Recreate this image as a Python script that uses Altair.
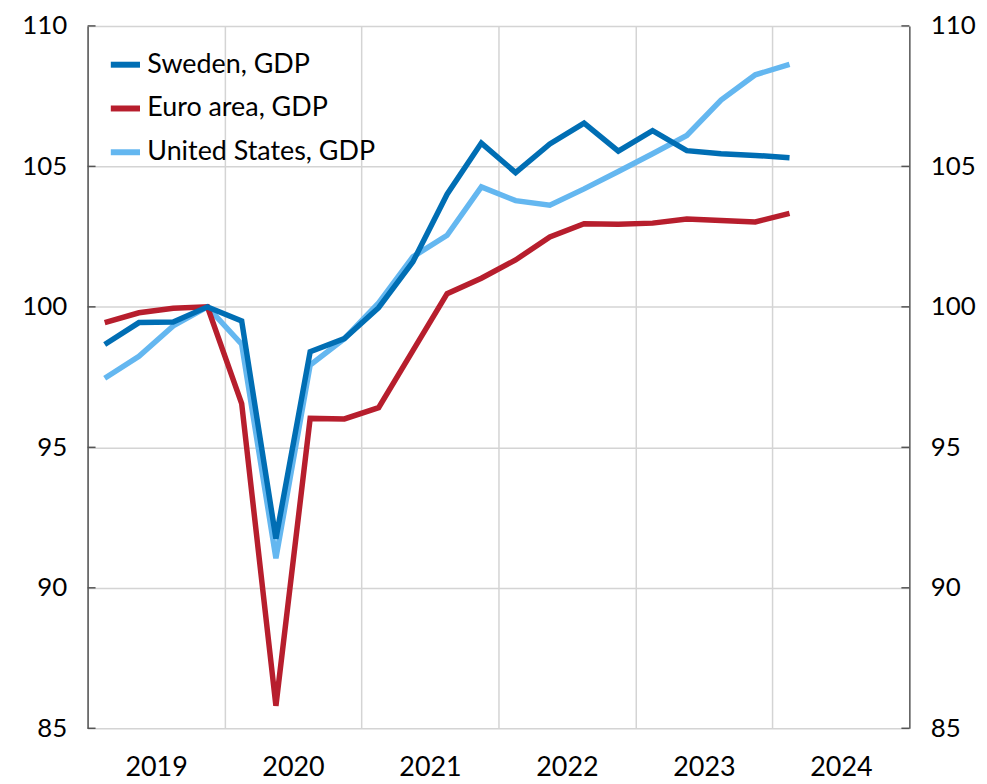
import altair as alt
import pandas as pd

quarters = ["2019Q1", "2019Q2", "2019Q3", "2019Q4",
            "2020Q1", "2020Q2", "2020Q3", "2020Q4",
            "2021Q1", "2021Q2", "2021Q3", "2021Q4",
            "2022Q1", "2022Q2", "2022Q3", "2022Q4",
            "2023Q1", "2023Q2", "2023Q3", "2023Q4",
            "2024Q1"]

sweden = [98.66, 99.44, 99.46, 100.0,
          99.50, 91.75, 98.40, 98.87,
          99.97, 101.60, 104.01, 105.83,
          104.78, 105.80, 106.54, 105.54,
          106.27, 105.56, 105.45, 105.39,
          105.31]

euro = [99.44, 99.79, 99.95, 100.0,
        96.56, 85.80, 96.03, 96.01,
        96.41, 98.44, 100.47, 101.02,
        101.67, 102.49, 102.96, 102.94,
        102.98, 103.13, 103.07, 103.02,
        103.33]

us = [97.46, 98.24, 99.32, 100.0,
      98.67, 91.05, 97.93, 98.87,
      100.14, 101.78, 102.55, 104.27,
      103.78, 103.62, 104.20, 104.82,
      105.45, 106.10, 107.36, 108.26,
      108.63]

series_names = ["Sweden, GDP", "Euro area, GDP", "United States, GDP"]
series_colors = ["#006EB4", "#B71E2D", "#64B7F0"]

y_ticks = [85, 90, 95, 100, 105, 110]
year_ticks = [2019, 2020, 2021, 2022, 2023, 2024]

FONT = "Lato"
W, H = 826, 706

rows = []
for name, vals in zip(series_names, [sweden, euro, us]):
    for q, v in zip(quarters, vals):
        year = int(q[:4])
        qn = int(q[-1])
        rows.append({"series": name, "quarter": q,
                     "pos": year + (qn - 0.5) / 4, "value": v})
df = pd.DataFrame(rows)
ticks_df = pd.DataFrame({"tick": y_ticks})

x_scale = alt.Scale(domain=[2019, 2025], nice=False, zero=False)
y_scale = alt.Scale(domain=[85, 110], nice=False, zero=False)
color_scale = alt.Scale(domain=series_names, range=series_colors)

x_axis = alt.Axis(values=year_ticks, format="d", title=None, grid=True,
                  ticks=False, domain=False, labelOffset=W / 12,
                  labelFlush=False, labelOverlap=False,
                  labelFont=FONT, labelFontSize=27, labelColor="#000000",
                  labelPadding=26, gridColor="#d4d4d4", gridWidth=1.5)

left_axis = alt.Axis(values=y_ticks, title=None, grid=True, ticks=False,
                     domain=True, domainColor="#555555", domainWidth=1.5,
                     labelFont=FONT, labelFontSize=26, labelColor="#000000",
                     labelPadding=21, gridColor="#d4d4d4", gridWidth=1.5,
                     labelFlush=False, orient="left")

right_axis = alt.Axis(values=y_ticks, title=None, grid=False, ticks=False,
                      domain=True, domainColor="#555555", domainWidth=1.5,
                      labelFont=FONT, labelFontSize=26, labelColor="#000000",
                      labelPadding=21, orient="right", labelAlign="left",
                      labelFlush=False)


def line_layer(name, y_axis):
    return alt.Chart(df).transform_filter(
        alt.datum.series == name
    ).mark_line(strokeWidth=5.5).encode(
        x=alt.X("pos:Q", scale=x_scale, axis=x_axis),
        y=alt.Y("value:Q", scale=y_scale, axis=y_axis),
        color=alt.Color("series:N", scale=color_scale,
                        legend=alt.Legend(title=None, orient="none",
                                          legendX=20, legendY=21,
                                          symbolType="stroke",
                                          symbolSize=860,
                                          symbolStrokeWidth=6,
                                          labelFont=FONT,
                                          labelFontSize=27,
                                          labelColor="#000000",
                                          labelLimit=0,
                                          labelOffset=4,
                                          rowPadding=13)),
    )


us_line = line_layer("United States, GDP", left_axis)
euro_line = line_layer("Euro area, GDP", None)
swe_line = line_layer("Sweden, GDP", None)

left_ticks = alt.Chart(ticks_df).mark_rule(color="#555555", strokeWidth=1.5).encode(
    x=alt.value(0), x2=alt.value(8),
    y=alt.Y("tick:Q", scale=y_scale, axis=None),
)
right_ticks = alt.Chart(ticks_df).mark_rule(color="#555555", strokeWidth=1.5).encode(
    x=alt.value(W - 8), x2=alt.value(W),
    y=alt.Y("tick:Q", scale=y_scale, axis=right_axis),
)

chart = alt.layer(
    us_line, euro_line, swe_line, left_ticks, right_ticks
).resolve_axis(y="independent").properties(
    width=W, height=H,
    autosize=alt.AutoSizeParams(type="none"),
    padding={"left": 80, "top": 16, "right": 70, "bottom": 54},
    background="#ffffff",
).configure_view(strokeWidth=0)

chart.save("out.html", embed_options={"renderer": "svg", "actions": False})
